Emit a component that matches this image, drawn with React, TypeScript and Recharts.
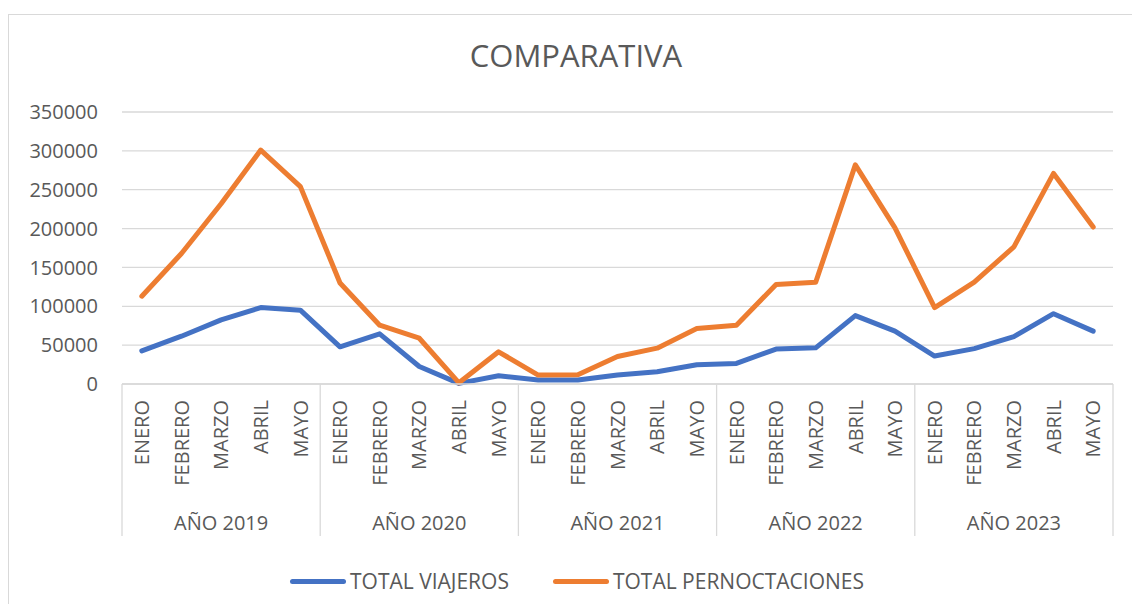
import React from "react";
import { LineChart, Line, XAxis, YAxis, CartesianGrid, Legend } from "recharts";

const months = ["ENERO", "FEBRERO", "MARZO", "ABRIL", "MAYO"];
const years = ["AÑO 2019", "AÑO 2020", "AÑO 2021", "AÑO 2022", "AÑO 2023"];
const yTicks = [0, 50000, 100000, 150000, 200000, 250000, 300000, 350000];

const totalViajeros = [
  42700, 61500, 82500, 98300, 95000,
  47800, 64500, 22500, 800, 10700,
  5100, 5100, 11500, 15800, 24800,
  26500, 45000, 46500, 88000, 68000,
  36000, 45500, 61000, 90500, 68000,
];
const totalPernoctaciones = [
  113000, 168000, 232000, 301000, 254000,
  130000, 75600, 58900, 1500, 41400,
  11500, 12000, 35400, 46100, 71300,
  75500, 128000, 131000, 282000, 201000,
  98300, 131000, 176500, 271000, 202000,
];

const seriesNames = ["TOTAL VIAJEROS", "TOTAL PERNOCTACIONES"];
const seriesColors = ["#4472C4", "#ED7D31"];

const data = totalViajeros.map((v, i) => ({
  key: `${years[Math.floor(i / months.length)]}-${months[i % months.length]}`,
  month: months[i % months.length],
  year: years[Math.floor(i / months.length)],
  viajeros: v,
  pernoctaciones: totalPernoctaciones[i],
}));

const CHART_W = 1123;
const CHART_H = 589;
const Y_W = 113;
const M = { top: 97, right: 19, bottom: 3, left: 0 };
const BAND = (CHART_W - M.left - M.right - Y_W) / data.length;
const TEXT = "#595959";
const GRID = "#d9d9d9";
const FONT = "'Open Sans', sans-serif";

const MonthTick = (props: any) => {
  const { x, y, payload } = props;
  const idx = payload.index;
  const d = data[idx];
  const n = months.length;
  return (
    <g>
      <text
        x={x}
        y={y + 16}
        transform={`rotate(-90, ${x}, ${y + 16})`}
        textAnchor="end"
        dy="0.36em"
        fill={TEXT}
        fontSize={20}
        fontFamily={FONT}
      >
        {d.month}
      </text>
      {idx % n === 0 && (
        <line x1={x - BAND / 2} x2={x - BAND / 2} y1={y} y2={y + 152} stroke={GRID} strokeWidth={1.3} />
      )}
      {idx === data.length - 1 && (
        <line x1={x + BAND / 2} x2={x + BAND / 2} y1={y} y2={y + 152} stroke={GRID} strokeWidth={1.3} />
      )}
      {idx % n === 2 && (
        <text x={x} y={y + 146} textAnchor="middle" fill={TEXT} fontSize={20} fontFamily={FONT}>
          {d.year}
        </text>
      )}
    </g>
  );
};

const LegendContent = () => (
  <div
    style={{
      height: 40,
      display: "flex",
      justifyContent: "center",
      alignItems: "center",
      fontFamily: FONT,
      fontSize: 21,
      color: TEXT,
      whiteSpace: "nowrap",
    }}
  >
    {seriesNames.map((name, i) => (
      <div key={name} style={{ display: "flex", alignItems: "center", marginRight: i === 0 ? 44 : 0 }}>
        <div style={{ width: 56, height: 5, borderRadius: 3, background: seriesColors[i], marginRight: 4 }} />
        <span>{name}</span>
      </div>
    ))}
  </div>
);

export default function App() {
  return (
    <div
      style={{
        position: "absolute",
        left: 8,
        top: 14,
        width: 1124,
        height: 590,
        borderLeft: `1px solid ${GRID}`,
        borderTop: `1px solid ${GRID}`,
        boxSizing: "border-box",
        background: "#fff",
      }}
    >
      <div
        style={{
          position: "absolute",
          left: 567,
          top: 25,
          transform: "translateX(-50%)",
          fontFamily: FONT,
          fontSize: 31,
          lineHeight: 1,
          color: TEXT,
          whiteSpace: "nowrap",
        }}
      >
        COMPARATIVA
      </div>
      <LineChart width={CHART_W} height={CHART_H} data={data} margin={M}>
        <CartesianGrid horizontal vertical={false} stroke={GRID} strokeWidth={1.3} />
        <XAxis
          dataKey="key"
          scale="band"
          interval={0}
          height={177}
          tickSize={0}
          tickMargin={0}
          tickLine={false}
          axisLine={{ stroke: GRID, strokeWidth: 1.3 }}
          tick={<MonthTick />}
        />
        <YAxis
          width={Y_W}
          domain={[0, 350000]}
          ticks={yTicks}
          interval={0}
          axisLine={false}
          tickLine={false}
          tickSize={6}
          tickMargin={18}
          tick={{ fill: TEXT, fontSize: 20, fontFamily: FONT }}
        />
        <Legend
          verticalAlign="bottom"
          content={<LegendContent />}
          wrapperStyle={{ left: 20, width: 1096, height: 40 }}
        />
        <Line
          dataKey="viajeros"
          name={seriesNames[0]}
          stroke={seriesColors[0]}
          strokeWidth={5}
          dot={false}
          strokeLinejoin="round"
          strokeLinecap="round"
          isAnimationActive={false}
        />
        <Line
          dataKey="pernoctaciones"
          name={seriesNames[1]}
          stroke={seriesColors[1]}
          strokeWidth={5}
          dot={false}
          strokeLinejoin="round"
          strokeLinecap="round"
          isAnimationActive={false}
        />
      </LineChart>
    </div>
  );
}
